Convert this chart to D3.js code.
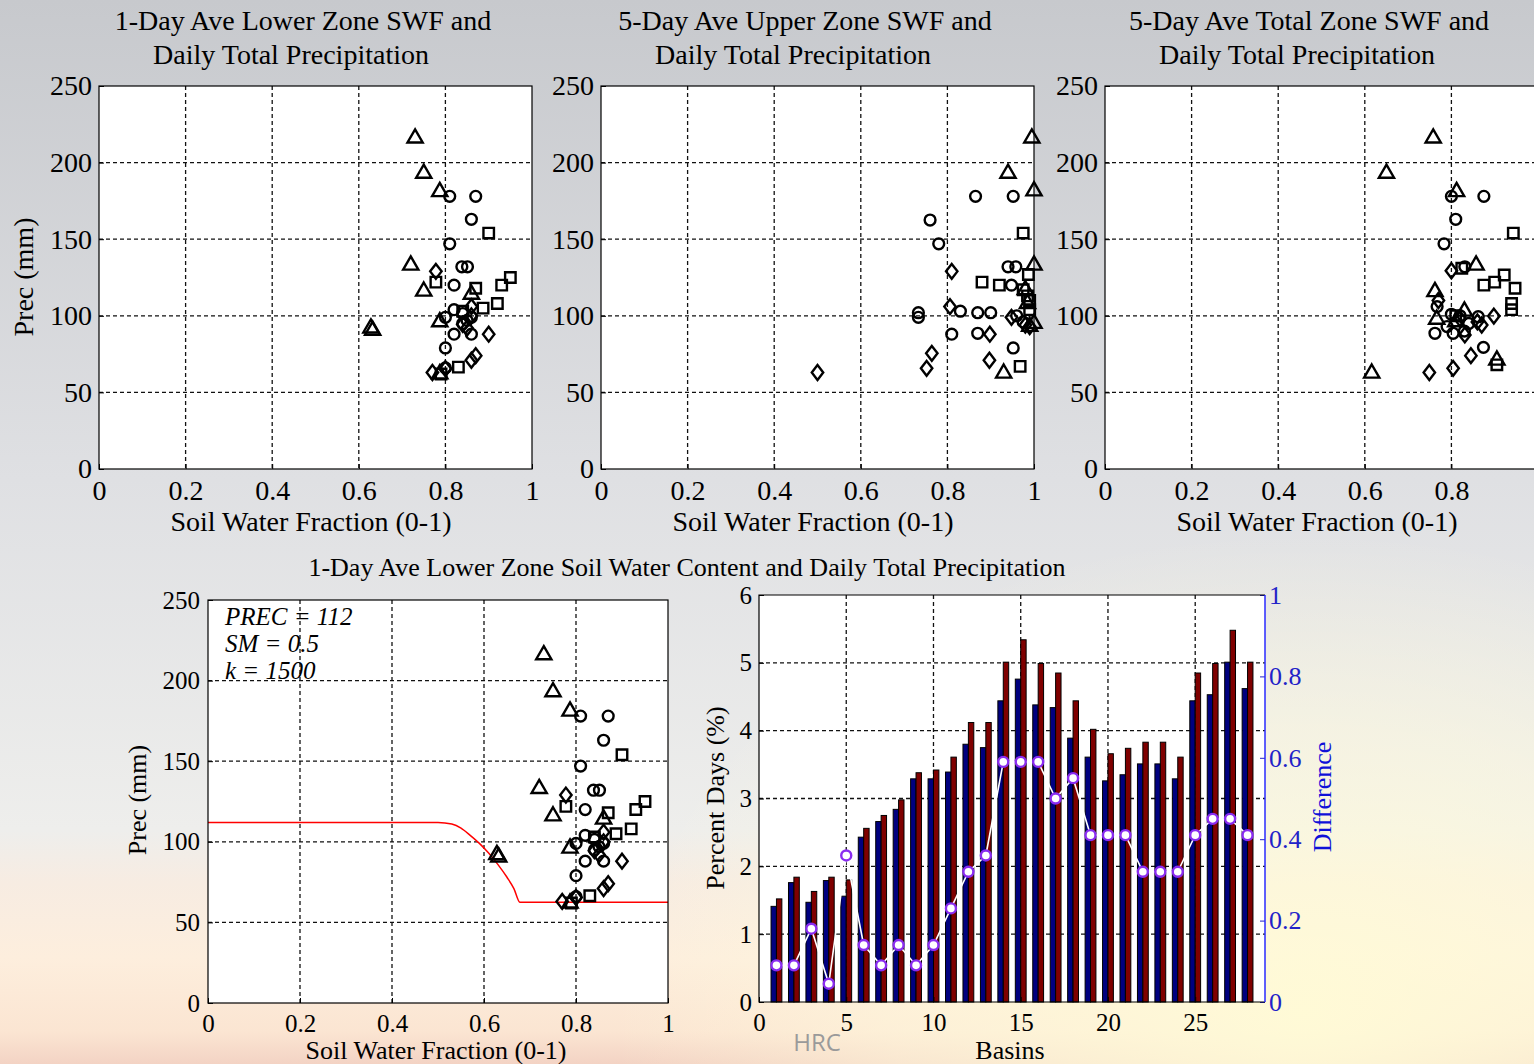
<!DOCTYPE html>
<html>
<head>
<meta charset="utf-8">
<script src="https://cdn.jsdelivr.net/npm/d3@7"></script>
<style>
html, body { margin: 0; padding: 0; overflow: hidden; }
svg text { font-family: "Liberation Serif", "Times New Roman", serif; }
</style>
</head>
<body>
<svg width="1534" height="1064"></svg>
<script>
// ---- data ----
var swfTicks = [0, 0.2, 0.4, 0.6, 0.8, 1];
var precTicks = [0, 50, 100, 150, 200, 250];

// 1-day lower zone SWF vs precipitation (used top-left and bottom-left)
var lowerTri = [[0.73,216],[0.75,193],[0.787,181],[0.72,133],[0.75,116],[0.86,114],[0.787,96],[0.628,92],[0.632,90.5],[0.787,62]];
var lowerCir = [[0.81,178],[0.87,178],[0.86,163],[0.81,147],[0.838,132],[0.851,132],[0.82,120],[0.82,104],[0.80,99],[0.84,101.5],[0.86,99],[0.84,95],[0.85,97],[0.82,88],[0.86,88],[0.80,79],[0.80,66]];
var lowerSq = [[0.90,154],[0.95,125],[0.93,120],[0.87,118],[0.778,122],[0.92,108],[0.887,105],[0.83,66.5],[0.79,62],[0.84,103]];
var lowerDia = [[0.778,129],[0.86,106],[0.86,100],[0.84,94.5],[0.85,92],[0.90,88],[0.87,74],[0.86,71],[0.77,63],[0.80,65.5]];

// 5-day upper zone
var upperTri = [[0.995,216],[0.94,193],[1.0,181.5],[1.0,133],[0.98,117],[0.99,93],[1.0,95],[0.93,62.5],[0.985,108]];
var upperCir = [[0.865,178],[0.952,178],[0.76,162.5],[0.78,147],[0.94,132],[0.958,132],[0.948,120],[0.83,103],[0.87,102],[0.90,102],[0.733,102],[0.733,99],[0.81,88],[0.87,88.6],[0.952,79],[0.96,100],[0.975,96]];
var upperSq = [[0.975,154],[0.88,122],[0.92,120],[0.987,127],[0.975,117],[0.99,110],[0.99,104],[0.968,67],[0.985,113]];
var upperDia = [[0.81,129],[0.806,106],[0.898,88],[0.764,75.5],[0.752,65.7],[0.50,63],[0.897,71],[0.948,99],[0.98,94],[0.99,93]];

// 5-day total zone
var totalTri = [[0.758,216],[0.65,193],[0.812,181],[0.857,133],[0.762,115.7],[0.766,97.7],[0.616,62.5],[0.905,71],[0.83,103],[0.81,96]];
var totalCir = [[0.80,178],[0.875,178],[0.81,163],[0.783,147],[0.831,132],[0.767,106],[0.762,88.6],[0.804,88.6],[0.874,79.4],[0.862,99.4],[0.80,101],[0.82,100],[0.84,95],[0.79,93],[0.83,90]];
var totalSq = [[0.943,154],[0.922,126.6],[0.90,122],[0.875,120],[0.947,118],[0.939,108],[0.939,104],[0.905,68],[0.824,131],[0.81,100]];
var totalDia = [[0.749,63],[0.804,65.7],[0.845,74],[0.898,99.8],[0.87,94],[0.831,87.5],[0.80,129.4],[0.77,110],[0.82,98],[0.86,96]];

// threshold curve (PREC = 112, SM = 0.5, k = 1500)
var curveSwf = [0, 0.5, 0.53, 0.55, 0.57, 0.59, 0.61, 0.63, 0.65, 0.665, 0.678, 1];
var curvePrec = [112, 112, 111, 108.5, 104, 99, 93, 86, 78, 71, 62.5, 62.5];

// basins bar chart
var basins = d3.range(1, 29);
var daysBlue = [1.41,1.76,1.47,1.79,1.56,2.43,2.66,2.84,3.29,3.29,3.39,3.80,3.75,4.44,4.76,4.38,4.34,3.89,3.61,3.26,3.35,3.51,3.51,3.29,4.44,4.53,5.01,4.62];
var daysRed = [1.52,1.84,1.63,1.84,1.80,2.56,2.75,2.98,3.38,3.42,3.61,4.12,4.12,5.01,5.34,4.99,4.85,4.44,4.02,3.66,3.74,3.83,3.83,3.61,4.85,4.99,5.48,5.01];
var difference = [0.09,0.09,0.18,0.045,0.36,0.14,0.09,0.14,0.09,0.14,0.23,0.32,0.36,0.59,0.59,0.59,0.50,0.55,0.41,0.41,0.41,0.32,0.32,0.32,0.41,0.45,0.45,0.41];
var daysTicks = [0, 1, 2, 3, 4, 5, 6];
var diffTicks = [0, 0.2, 0.4, 0.6, 0.8, 1];
var basinTicks = [0, 5, 10, 15, 20, 25];

var svg = d3.select("svg");
var W = 1534, H = 1064;
var fmt = function (d) { return String(d); };

// ---- background ----
var defs = svg.append("defs");
var bg = defs.append("linearGradient").attr("id", "bg")
    .attr("x1", 0).attr("y1", 0).attr("x2", 0).attr("y2", 1);
[[0, "#c7c9cd"], [0.45, "#dfe0e3"], [0.78, "#eeeeec"], [0.83, "#f7ece2"],
 [0.9, "#fdeedd"], [0.97, "#fbe5d2"], [1, "#f3d3c4"]].forEach(function (s) {
    bg.append("stop").attr("offset", s[0]).attr("stop-color", s[1]);
});
var glow = defs.append("radialGradient").attr("id", "glow")
    .attr("cx", 0.85).attr("cy", 0.95).attr("r", 0.45);
glow.append("stop").attr("offset", 0).attr("stop-color", "#fffbd6").attr("stop-opacity", 0.95);
glow.append("stop").attr("offset", 0.6).attr("stop-color", "#fffadc").attr("stop-opacity", 0.5);
glow.append("stop").attr("offset", 1).attr("stop-color", "#fffadc").attr("stop-opacity", 0);
svg.append("rect").attr("width", W).attr("height", H).attr("fill", "url(#bg)");
svg.append("rect").attr("width", W).attr("height", H).attr("fill", "url(#glow)");

// custom MATLAB-like diamond (wider than d3's)
var wideDiamond = {
    draw: function (ctx, size) {
        var w = Math.sqrt(size / 2.6), h = w * 1.3;
        ctx.moveTo(0, -h); ctx.lineTo(w, 0); ctx.lineTo(0, h); ctx.lineTo(-w, 0); ctx.closePath();
    }
};
var markerTypes = [
    { type: d3.symbolTriangle, size: 100 },
    { type: d3.symbolCircle, size: 92 },
    { type: d3.symbolSquare, size: 110 },
    { type: wideDiamond, size: 85 }
];

function gridLines(g, x, y, xt, yt, box) {
    g.append("g").selectAll("line").data(xt.filter(function (d) { return d > x.domain()[0] && d < x.domain()[1]; }))
        .enter().append("line")
        .attr("x1", function (d) { return x(d); }).attr("x2", function (d) { return x(d); })
        .attr("y1", box.top).attr("y2", box.bottom)
        .attr("stroke", "#111").attr("stroke-width", 1.3).attr("stroke-dasharray", "4,3");
    g.append("g").selectAll("line").data(yt.filter(function (d) { return d > y.domain()[0] && d < y.domain()[1]; }))
        .enter().append("line")
        .attr("y1", function (d) { return y(d); }).attr("y2", function (d) { return y(d); })
        .attr("x1", box.left).attr("x2", box.right)
        .attr("stroke", "#111").attr("stroke-width", 1.3).attr("stroke-dasharray", "4,3");
}

function styleAxis(sel, fs, color) {
    sel.attr("font-size", fs).attr("font-family", "Liberation Serif, serif");
    sel.select(".domain").remove();
    sel.selectAll("line").attr("stroke", color || "#000");
    sel.selectAll("text").attr("fill", color || "#000");
}

function axesFrame(g, x, y, xt, yt, box, fs, xpad, ypad) {
    g.append("g").attr("transform", "translate(0," + box.bottom + ")")
        .call(d3.axisBottom(x).tickValues(xt.filter(function (d) { return x(d) < W - 6; }))
            .tickFormat(fmt).tickSize(-5).tickPadding(xpad))
        .call(styleAxis, fs);
    g.append("g").attr("transform", "translate(" + box.left + ",0)")
        .call(d3.axisLeft(y).tickValues(yt).tickFormat(fmt).tickSize(-5).tickPadding(ypad))
        .call(styleAxis, fs);
    g.append("rect").attr("x", box.left).attr("y", box.top)
        .attr("width", box.right - box.left).attr("height", box.bottom - box.top)
        .attr("fill", "none").attr("stroke", "#000").attr("stroke-width", 1.2);
}

function scatterPanel(p) {
    var box = { left: p.left, right: p.right, top: p.top, bottom: p.bottom };
    var x = d3.scaleLinear().domain([0, 1]).range([p.left, p.right]);
    var y = d3.scaleLinear().domain([0, 250]).range([p.bottom, p.top]);
    var g = svg.append("g");
    g.append("rect").attr("x", box.left).attr("y", box.top)
        .attr("width", box.right - box.left).attr("height", box.bottom - box.top).attr("fill", "white");
    gridLines(g, x, y, swfTicks, precTicks, box);
    if (p.extra) p.extra(g, x, y);
    p.series.forEach(function (pts, i) {
        var sym = d3.symbol().type(markerTypes[i].type).size(markerTypes[i].size);
        g.append("g").selectAll("path").data(pts).enter().append("path")
            .attr("d", sym)
            .attr("transform", function (d) { return "translate(" + x(d[0]) + "," + y(d[1]) + ")"; })
            .attr("fill", "none").attr("stroke", "#000").attr("stroke-width", 2.4);
    });
    axesFrame(g, x, y, swfTicks, precTicks, box, p.fs, p.xpad, p.ypad);
    return g;
}

function label(txt, x, y, fs, rot, color) {
    var t = svg.append("text").attr("text-anchor", "middle").attr("font-size", fs)
        .attr("fill", color || "#000").text(txt);
    if (rot) t.attr("transform", "translate(" + x + "," + y + ") rotate(-90)");
    else t.attr("x", x).attr("y", y);
    return t;
}

// ---- top row ----
var topPanels = [
    { left: 99, title: ["1-Day Ave Lower Zone SWF and", "Daily Total Precipitation"], series: [lowerTri, lowerCir, lowerSq, lowerDia] },
    { left: 601, title: ["5-Day Ave Upper Zone SWF and", "Daily Total Precipitation"], series: [upperTri, upperCir, upperSq, upperDia] },
    { left: 1105, title: ["5-Day Ave Total Zone SWF and", "Daily Total Precipitation"], series: [totalTri, totalCir, totalSq, totalDia] }
];
topPanels.forEach(function (tp) {
    scatterPanel({ left: tp.left, right: tp.left + 433, top: 86, bottom: 469, series: tp.series, fs: 28, xpad: 11, ypad: 7 });
    label(tp.title[0], tp.left + 204, 30, 28);
    label(tp.title[1], tp.left + 192, 64, 28);
    label("Soil Water Fraction (0-1)", tp.left + 212, 531, 28);
});
label("Prec (mm)", 33, 277, 28, true);

// ---- bottom left ----
var bl = scatterPanel({
    left: 208, right: 668, top: 600, bottom: 1003, fs: 25, xpad: 11, ypad: 8,
    series: [lowerTri, lowerCir, lowerSq, lowerDia],
    extra: function (g, x, y) {
        var line = d3.line().x(function (d) { return x(d); }).y(function (d, i) { return y(curvePrec[i]); })
            .curve(d3.curveMonotoneX);
        g.append("path").attr("d", line(curveSwf)).attr("fill", "none")
            .attr("stroke", "#ff0000").attr("stroke-width", 1.5);
    }
});
var note = ["PREC = 112", "SM = 0.5", "k = 1500"];
svg.append("g").selectAll("text").data(note).enter().append("text")
    .attr("x", 225).attr("y", function (d, i) { return 625 + i * 27; })
    .attr("font-size", 25).attr("font-style", "italic").text(function (d) { return d; });
label("1-Day Ave Lower Zone Soil Water Content and Daily Total Precipitation", 687, 576, 26);
label("Prec (mm)", 146, 800, 26, true);
label("Soil Water Fraction (0-1)", 436, 1059, 26);

// ---- bottom right: percent days by basin ----
var br = { left: 759, right: 1265, top: 595, bottom: 1002 };
var xb = d3.scaleLinear().domain([0, 29]).range([br.left, br.right]);
var yd = d3.scaleLinear().domain([0, 6]).range([br.bottom, br.top]);
var yr = d3.scaleLinear().domain([0, 1]).range([br.bottom, br.top]);
var gb = svg.append("g");
gb.append("rect").attr("x", br.left).attr("y", br.top)
    .attr("width", br.right - br.left).attr("height", br.bottom - br.top).attr("fill", "white");
gridLines(gb, xb, yd, basinTicks, daysTicks, br);
var bw = 0.31;
gb.append("g").selectAll("rect").data(basins).enter().append("rect")
    .attr("x", function (d) { return xb(d - bw); })
    .attr("width", xb(bw) - xb(0))
    .attr("y", function (d, i) { return yd(daysBlue[i]); })
    .attr("height", function (d, i) { return yd(0) - yd(daysBlue[i]); })
    .attr("fill", "#00007f").attr("stroke", "#000").attr("stroke-width", 1);
gb.append("g").selectAll("rect").data(basins).enter().append("rect")
    .attr("x", function (d) { return xb(d); })
    .attr("width", xb(bw) - xb(0))
    .attr("y", function (d, i) { return yd(daysRed[i]); })
    .attr("height", function (d, i) { return yd(0) - yd(daysRed[i]); })
    .attr("fill", "#7f0000").attr("stroke", "#000").attr("stroke-width", 1);
var diffLine = d3.line().x(function (d) { return xb(d); }).y(function (d, i) { return yr(difference[i]); });
gb.append("path").attr("d", diffLine(basins)).attr("fill", "none")
    .attr("stroke", "#fff").attr("stroke-width", 1.6);
gb.append("g").selectAll("circle").data(basins).enter().append("circle")
    .attr("cx", function (d) { return xb(d); })
    .attr("cy", function (d, i) { return yr(difference[i]); })
    .attr("r", 5).attr("fill", "#fff").attr("stroke", "#8a2cf0").attr("stroke-width", 2.4);

gb.append("g").attr("transform", "translate(0," + br.bottom + ")")
    .call(d3.axisBottom(xb).tickValues(basinTicks).tickFormat(fmt).tickSize(-5).tickPadding(11))
    .call(styleAxis, 25);
gb.append("g").attr("transform", "translate(" + br.left + ",0)")
    .call(d3.axisLeft(yd).tickValues(daysTicks).tickFormat(fmt).tickSize(-5).tickPadding(7))
    .call(styleAxis, 25);
gb.append("g").attr("transform", "translate(" + br.right + ",0)")
    .call(d3.axisRight(yr).tickValues(diffTicks).tickFormat(fmt).tickSize(-5).tickPadding(4))
    .call(styleAxis, 26, "#2222c8");
// frame: black on three sides, blue on the right
gb.append("path").attr("d", "M" + br.right + "," + br.top + "H" + br.left + "V" + br.bottom + "H" + br.right)
    .attr("fill", "none").attr("stroke", "#000").attr("stroke-width", 1.2);
gb.append("line").attr("x1", br.right).attr("x2", br.right).attr("y1", br.top).attr("y2", br.bottom)
    .attr("stroke", "#2a2aff").attr("stroke-width", 1.5);

label("Percent Days (%)", 724, 798, 26, true);
label("Difference", 1331, 797, 26, true, "#1010d8");
label("Basins", 1010, 1059, 26);
svg.append("text").attr("x", 817).attr("y", 1051).attr("text-anchor", "middle")
    .attr("font-size", 24).attr("fill", "#9a9a9a")
    .style("font-family", "Open Sans, sans-serif").text("HRC");
</script>
</body>
</html>
